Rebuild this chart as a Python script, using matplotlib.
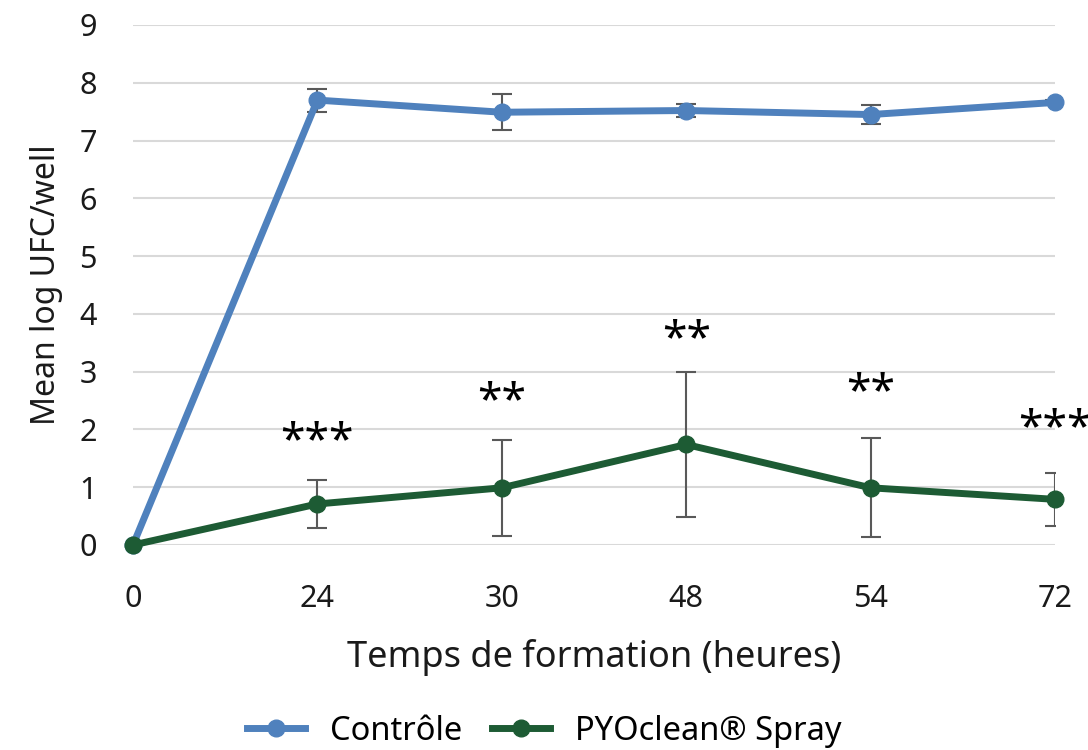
import numpy as np
import matplotlib
matplotlib.use("Agg")
import matplotlib.pyplot as plt

plt.rcParams["font.family"] = ["Noto Sans", "DejaVu Sans"]

# ── Data ──────────────────────────────────────────────────────────────────────
hours = ["0", "24", "30", "48", "54", "72"]
controle = [0.0, 7.70, 7.49, 7.52, 7.45, 7.66]
controle_err = [0.0, 0.20, 0.31, 0.12, 0.16, 0.05]
spray = [0.0, 0.71, 0.99, 1.74, 0.99, 0.79]
spray_err = [0.0, 0.41, 0.83, 1.26, 0.86, 0.46]
stars = ["", "***", "**", "**", "**", "***"]
stars_y = [0, 1.95, 2.65, 3.72, 2.80, 2.17]

blue = "#4f81bd"
green = "#1d5b34"
err_col = "#595959"
txt_col = "#1a1a1a"

fig = plt.figure(figsize=(10.88, 7.5), dpi=100)
ax = fig.add_axes([133 / 1088, 205 / 750, 922 / 1088, 520 / 750])

x = np.arange(len(hours))

for vals, errs, col, lab in [
    (controle, controle_err, blue, "Contrôle"),
    (spray, spray_err, green, "PYOclean® Spray"),
]:
    ax.errorbar(x, vals, yerr=errs, fmt="none", ecolor=err_col,
                elinewidth=1.5, capsize=7, capthick=1.5, zorder=2)
    ax.plot(x, vals, color=col, lw=5, marker="o", ms=12,
            label=lab, zorder=3, clip_on=False)

# significance stars (glyphs sit high in the line box, so nudge them down)
for xi, s, sy in zip(x, stars, stars_y):
    if s:
        ax.annotate(s, (xi, sy), xytext=(0, -10), textcoords="offset pixels",
                    ha="center", va="center", fontsize=32, color="black",
                    annotation_clip=False)

ax.set_xlim(0, len(hours) - 1)
ax.set_ylim(0, 9)
ax.set_yticks(range(0, 10))
ax.set_xticks(x)
ax.set_xticklabels(hours)
ax.tick_params(axis="both", length=0, labelsize=22, colors=txt_col)
ax.tick_params(axis="y", pad=26)
ax.tick_params(axis="x", pad=28)
ax.yaxis.grid(True, color="#d9d9d9", lw=1.5)
ax.set_axisbelow(True)
for sp in ax.spines.values():
    sp.set_visible(False)

ax.set_xlabel("Temps de formation (heures)", fontsize=26, color=txt_col,
              labelpad=18)
ax.set_ylabel("Mean log UFC/well", fontsize=23, color=txt_col,
              labelpad=12)

fig.legend(loc="center", bbox_to_anchor=(0.5, 0.025), ncol=2, frameon=False,
           fontsize=23.5, handlelength=1.8, columnspacing=0.9,
           handletextpad=0.75)

plt.savefig("out.png", dpi=100)
